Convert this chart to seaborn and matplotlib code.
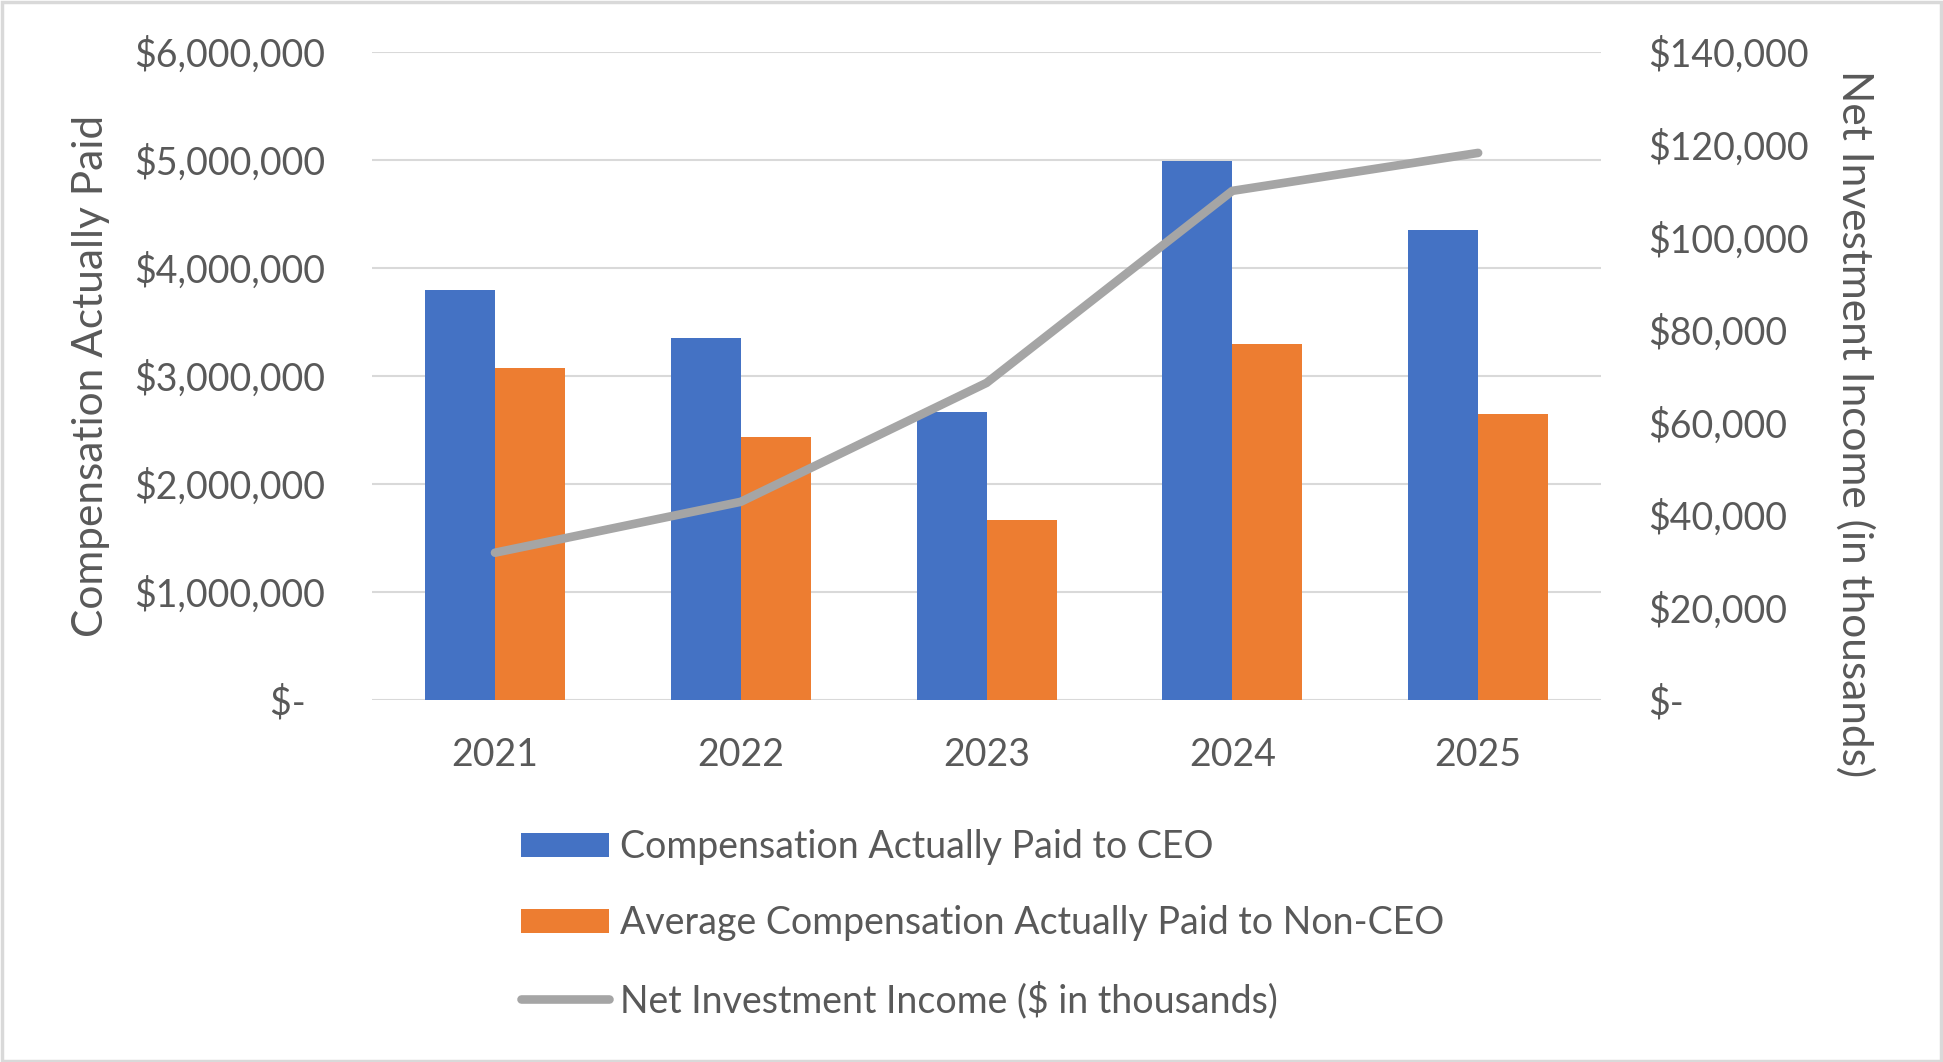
import numpy as np
import pandas as pd
import matplotlib
matplotlib.use("Agg")
import matplotlib.pyplot as plt
import seaborn as sns
from matplotlib.ticker import FuncFormatter, MultipleLocator
from matplotlib.patches import Patch, Rectangle
from matplotlib.lines import Line2D

# data
years = ["2021", "2022", "2023", "2024", "2025"]
ceo_cap = [3.80e6, 3.35e6, 2.67e6, 4.99e6, 4.35e6]
non_ceo_cap = [3.07e6, 2.43e6, 1.67e6, 3.30e6, 2.65e6]
net_inv_income = [31800, 42800, 68500, 110000, 118200]

series_names = ["Compensation Actually Paid to CEO",
                "Average Compensation Actually Paid to Non-CEO"]
line_name = "Net Investment Income ($ in thousands)"

blue = "#4472C4"
orange = "#ED7D31"
gray = "#A5A5A5"
text_col = "#595959"
grid_col = "#D9D9D9"

df = pd.DataFrame({"year": years * 2,
                   "value": ceo_cap + non_ceo_cap,
                   "series": [series_names[0]] * 5 + [series_names[1]] * 5})

sns.set_theme(style="white")
plt.rcParams["font.family"] = ["Lato", "DejaVu Sans"]
fs = 27
lab_fs = 30.5

fig = plt.figure(figsize=(19.43, 10.62), dpi=100)
ax = fig.add_axes([0.1915, 0.341, 0.6325, 0.610])

sns.barplot(data=df, x="year", y="value", hue="series", hue_order=series_names,
            palette=[blue, orange], saturation=1, width=0.57, ax=ax,
            legend=False, linewidth=0)

ax.set_xlim(-0.5, 4.5)
ax.set_ylim(0, 6e6)
ax.yaxis.set_major_locator(MultipleLocator(1e6))
ax.yaxis.set_major_formatter(FuncFormatter(lambda v, _: "$-  " if v == 0 else f"${v:,.0f}"))
ax.yaxis.grid(True, color=grid_col, lw=1.5)
ax.set_axisbelow(True)
for s in ax.spines.values():
    s.set_visible(False)
ax.tick_params(axis="both", length=0, labelsize=fs, colors=text_col)
ax.tick_params(axis="y", pad=34)
ax.tick_params(axis="x", pad=27)
ax.set_xlabel("")
ax.set_ylabel("Compensation Actually Paid", fontsize=lab_fs, color=text_col)
ax.yaxis.set_label_coords(-0.213, 0.5)

ax2 = ax.twinx()
sns.lineplot(x=np.arange(len(years)), y=net_inv_income, ax=ax2, color=gray,
             lw=6.2, solid_capstyle="round", solid_joinstyle="round")
ax2.set_ylim(0, 140000)
ax2.yaxis.set_major_locator(MultipleLocator(20000))
ax2.yaxis.set_major_formatter(FuncFormatter(lambda v, _: "$-" if v == 0 else f"${v:,.0f}"))
for s in ax2.spines.values():
    s.set_visible(False)
ax2.tick_params(axis="y", length=0, labelsize=fs, colors=text_col, pad=34)
ax2.set_ylabel("")
fig.text(1855 / 1943, 1 - 424 / 1062, "Net Investment Income (in thousands)",
         rotation=270, ha="center", va="center", fontsize=lab_fs, color=text_col)

handles = [Patch(facecolor=blue, edgecolor="none"),
           Patch(facecolor=orange, edgecolor="none"),
           Line2D([0], [0], color=gray, lw=6.2, solid_capstyle="round")]
fig.legend(handles, series_names + [line_name], loc="upper left",
           bbox_to_anchor=(521 / 1943, 1 - 829 / 1062), frameon=False,
           fontsize=fs, labelcolor=text_col, handlelength=2.35,
           handleheight=0.62, handletextpad=0.3, labelspacing=1.07,
           borderpad=0, borderaxespad=0)

fig.patches.append(Rectangle((0.001, 0.001), 0.998, 0.997, transform=fig.transFigure,
                             fill=False, edgecolor=grid_col, lw=2.5))

fig.savefig("out.png", dpi=100)
